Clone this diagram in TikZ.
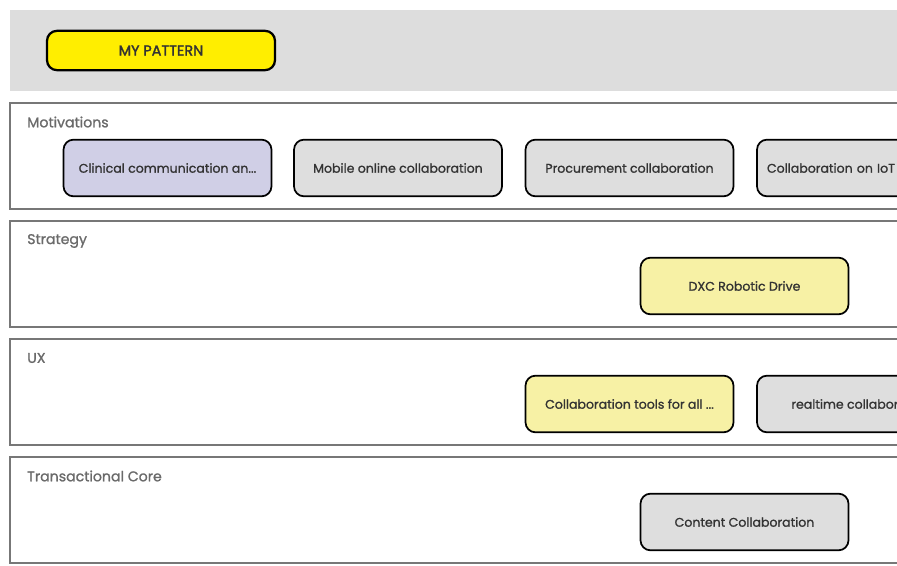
\documentclass[tikz,border=0pt]{standalone}
\usepackage{fontspec}
\setmainfont{Poppins}
\newfontfamily\cardfont{Poppins}[FakeBold=1.2]
\newfontfamily\headfont{Poppins}[FakeBold=2]
\definecolor{bandgray}{HTML}{DDDDDD}
\definecolor{cardgray}{HTML}{DEDEDE}
\definecolor{lanegray}{HTML}{777777}
\definecolor{titlegray}{HTML}{6A6A6A}
\definecolor{textdark}{HTML}{333333}
\definecolor{patternyellow}{HTML}{FFEE00}
\definecolor{paleyellow}{HTML}{F7F1A5}
\definecolor{lavender}{HTML}{D0CFE6}

\begin{document}
\begin{tikzpicture}[x=0.75pt,y=0.75pt,yscale=-1,xscale=1,
  card/.style={draw=black,line width=1.3pt,rounded corners=7.5pt,minimum width=156pt,minimum height=42.5pt,inner sep=0pt,font=\cardfont\fontsize{9.4}{11}\selectfont,text=textdark},
  lane/.style={draw=lanegray,line width=1.5pt},
  lanetitle/.style={anchor=west,inner sep=0pt,font=\cardfont\fontsize{10.6}{12}\selectfont,text=titlegray}]
\useasboundingbox (0,0) rectangle (897,566);
\clip (0,0) rectangle (897,566);

%Shape: Band
\fill [bandgray] (10,10) rectangle (905,91);
%Shape: Lanes
\draw [lane] (10,103) rectangle (905,209);
\draw [lane] (10,221) rectangle (905,327);
\draw [lane] (10,339) rectangle (905,445);
\draw [lane] (10,457) rectangle (905,563);

% Text Node
\node [card,fill=patternyellow,line width=1.7pt,minimum width=171pt,minimum height=29.5pt,font=\headfont\fontsize{10.8}{12}\selectfont] (pattern) at (161,50.5) {MY PATTERN};

% Text Node
\node [lanetitle] (motivations) at (27,122) {Motivations};
\node [lanetitle] (strategy) at (27,241) {Strategy};
\node [lanetitle] (ux) at (27,358) {UX};
\node [lanetitle] (core) at (27,476) {Transactional Core};

% Motivations
\node [card,fill=lavender] (clinical) at (167.5,168) {Clinical communication an...};
\node [card,fill=cardgray] (mobile) at (398,168) {Mobile online collaboration};
\node [card,fill=cardgray] (procurement) at (629.5,168) {Procurement collaboration};
\node [card,fill=cardgray,text width=141pt,align=left] (iot) at (861,168) {Collaboration on IoT};
% Strategy
\node [card,fill=paleyellow] (dxc) at (744.5,286) {DXC Robotic Drive};
% UX
\node [card,fill=paleyellow] (tools) at (629.5,404) {Collaboration tools for all ...};
\node [card,fill=cardgray] (realtime) at (861,404) {realtime collaboration};
% Transactional Core
\node [card,fill=cardgray] (content) at (744.5,522) {Content Collaboration};
\end{tikzpicture}
\end{document}
